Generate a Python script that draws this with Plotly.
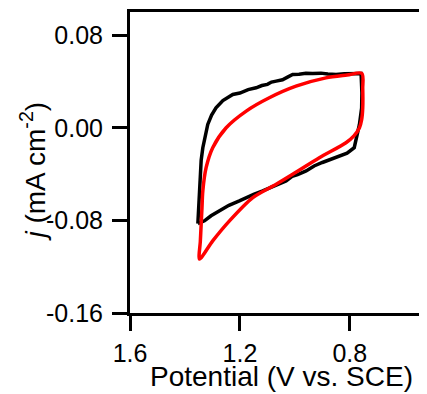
import plotly.graph_objects as go

# Black CV (potential in V vs SCE, current density in mA cm^-2)
black_E = [1.353, 1.349, 1.345, 1.341, 1.335, 1.327, 1.317, 1.303, 1.287, 1.262, 1.240, 1.226,
           1.200, 1.170, 1.141, 1.120, 1.100, 1.085, 1.068, 1.045, 1.025, 1.008, 0.985,
           0.960, 0.935, 0.905, 0.880, 0.850, 0.820, 0.790, 0.759,
           0.756, 0.757, 0.765, 0.775, 0.784, 0.810, 0.840, 0.875, 0.900, 0.930, 0.959,
           0.990, 1.010, 1.032, 1.060, 1.090, 1.117, 1.150, 1.180, 1.202, 1.240, 1.275,
           1.305, 1.329, 1.345, 1.353]
black_j = [-0.0828, -0.0620, -0.0402, -0.0280, -0.0172, -0.0070, 0.0029, 0.0110, 0.0172, 0.0235, 0.0265, 0.0288,
           0.0300, 0.0330, 0.0345, 0.0365, 0.0375, 0.0395, 0.0403, 0.0415, 0.0440, 0.0460, 0.0462,
           0.0470, 0.0469, 0.0472, 0.0465, 0.0460, 0.0466, 0.0468, 0.0469,
           0.0300, 0.0172, 0.0029, -0.0080, -0.0172, -0.0220, -0.0245, -0.0273, -0.0300, -0.0330, -0.0373,
           -0.0405, -0.0420, -0.0459, -0.0490, -0.0520, -0.0546, -0.0575, -0.0610, -0.0632, -0.0670, -0.0718,
           -0.0760, -0.0804, -0.0822, -0.0828]

# Red CV
red_E = [1.347, 1.344, 1.341, 1.338, 1.335, 1.323, 1.299, 1.250, 1.177, 1.093, 0.996, 0.887, 0.810, 0.756,
         0.753, 0.753, 0.757, 0.765, 0.785, 0.814, 0.911, 1.008, 1.068, 1.153, 1.238, 1.299, 1.347]
red_j = [-0.1134, -0.0980, -0.0833, -0.0690, -0.0546, -0.0345, -0.0172, 0.0000, 0.0144, 0.0259, 0.0359, 0.0431, 0.0455, 0.0469,
         0.0340, 0.0172, 0.0070, 0.0000, -0.0070, -0.0129, -0.0259, -0.0402, -0.0488, -0.0603, -0.0804, -0.0977, -0.1134]

x_ticks = [1.6, 1.2, 0.8]
x_ticklabels = ["1.6", "1.2", "0.8"]
y_ticks = [0.08, 0.00, -0.08, -0.16]
y_ticklabels = ["0.08", "0.00", "-0.08", "-0.16"]
x_title = "Potential (V vs. SCE)"
y_title = "<i>j</i> (mA cm<sup>-2</sup>)"

fig = go.Figure()
fig.add_trace(go.Scatter(x=black_E, y=black_j, mode="lines",
                         line=dict(color="black", width=3.5), showlegend=False))
fig.add_trace(go.Scatter(x=red_E, y=red_j, mode="lines",
                         line=dict(color="#ff0000", width=3.5, shape="spline", smoothing=0.8),
                         showlegend=False))

font_family = "Liberation Sans, Arial, sans-serif"
fig.update_layout(
    width=427, height=394,
    margin=dict(l=122, r=0, t=4, b=89, autoexpand=False),
    plot_bgcolor="white", paper_bgcolor="white",
    font=dict(family=font_family, color="black"),
    xaxis=dict(range=[1.6, 0.49], tickvals=x_ticks, ticktext=x_ticklabels,
               showline=True, linecolor="black", linewidth=3, mirror=True,
               ticks="outside", ticklen=15, tickwidth=3, tickcolor="black",
               showgrid=False, zeroline=False, tickfont=dict(size=25),
               automargin=False, ticklabelstandoff=1),
    yaxis=dict(range=[-0.16, 0.10], tickvals=y_ticks, ticktext=y_ticklabels,
               showline=True, linecolor="black", linewidth=3,
               ticks="outside", ticklen=15, tickwidth=3, tickcolor="black",
               showgrid=False, zeroline=False, tickfont=dict(size=25),
               ticklabelstandoff=4, automargin=False),
    annotations=[
        dict(text=x_title, xref="paper", yref="paper", x=(273 - 122) / 305, y=-0.268,
             xanchor="center", yanchor="bottom", showarrow=False, font=dict(size=28)),
        dict(text=y_title, xref="paper", yref="paper", x=-0.318, y=0.47, textangle=-90,
             xanchor="center", yanchor="middle", showarrow=False, font=dict(size=28)),
    ],
)

fig.write_html("out.html")
